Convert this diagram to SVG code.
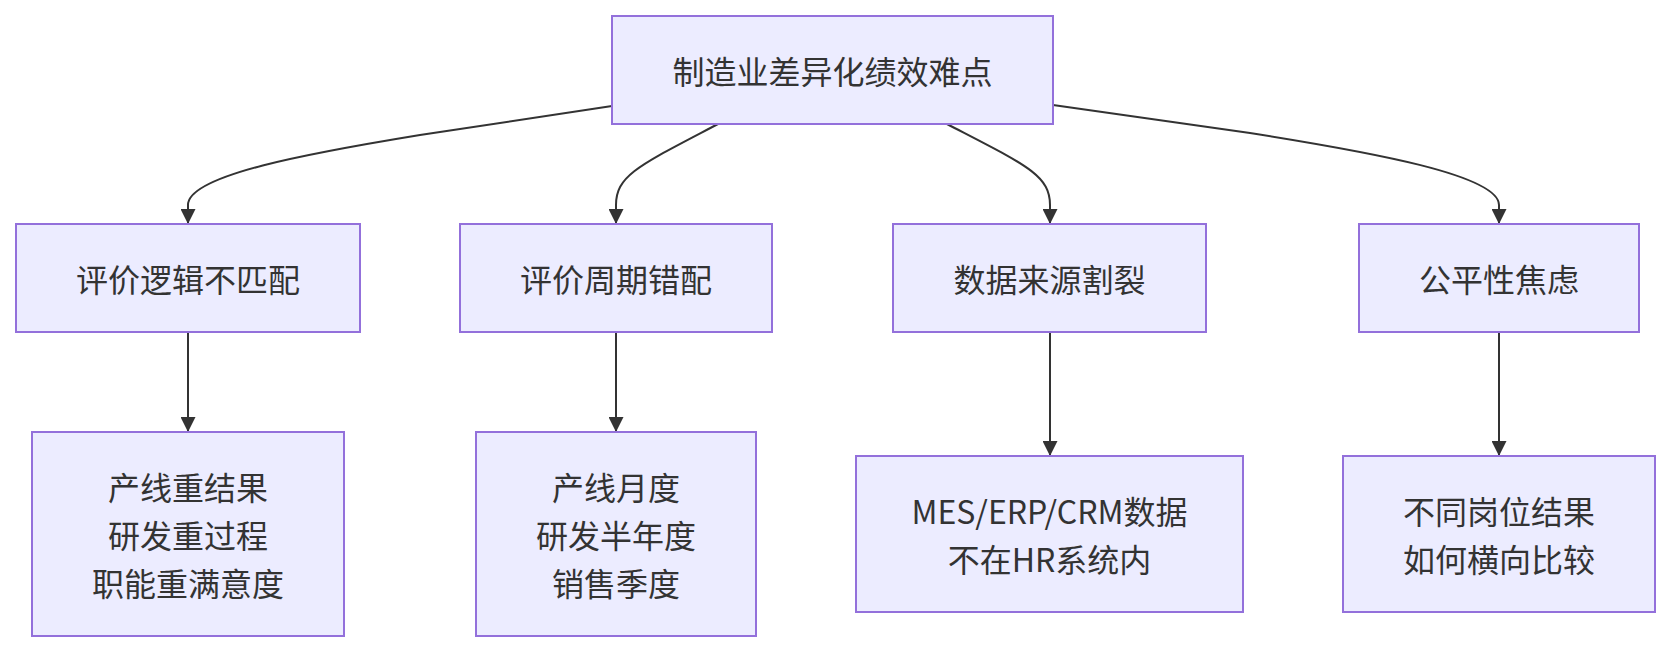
<svg xmlns="http://www.w3.org/2000/svg" width="1670" height="652" viewBox="0 0 1670 652">
<defs>
<marker id="arr" viewBox="0 0 10 10" refX="10" refY="5" markerUnits="userSpaceOnUse" markerWidth="15" markerHeight="15" orient="auto">
<path d="M0,0 L10,5 L0,10 z" fill="#333"/>
</marker>
<style>
.node rect{fill:#ECECFF;stroke:#9370DB;stroke-width:2}
.node text{font-family:"Noto Sans CJK SC","Liberation Sans",sans-serif;font-size:32px;fill:#333;text-anchor:middle;dominant-baseline:central}
.edges path{fill:none;stroke:#333;stroke-width:2;marker-end:url(#arr)}
</style>
</defs>
<rect width="1670" height="652" fill="#fff"/>
<g class="edges" id="connectors">
<path d="M612,106 L420,135 C310,153 188,175 188,205 L188,224"/>
<path d="M718,124 C640,165 616,175 616,205 L616,224"/>
<path d="M947,124 C1026,165 1050,175 1050,205 L1050,224"/>
<path d="M1053,105 L1250,133 C1370,152 1499,175 1499,205 L1499,224"/>
<path d="M188,332 L188,432"/>
<path d="M616,332 L616,432"/>
<path d="M1050,332 L1050,456"/>
<path d="M1499,332 L1499,456"/>
</g>
<g class="node" id="root"><rect x="612" y="16" width="441" height="108"/><text x="832.5" y="70">制造业差异化绩效难点</text></g>
<g class="node" id="a1"><rect x="16" y="224" width="344" height="108"/><text x="188" y="278">评价逻辑不匹配</text></g>
<g class="node" id="a2"><rect x="460" y="224" width="312" height="108"/><text x="616" y="278">评价周期错配</text></g>
<g class="node" id="a3"><rect x="893" y="224" width="313" height="108"/><text x="1049.5" y="278">数据来源割裂</text></g>
<g class="node" id="a4"><rect x="1359" y="224" width="280" height="108"/><text x="1499" y="278">公平性焦虑</text></g>
<g class="node" id="b1"><rect x="32" y="432" width="312" height="204"/><text x="188" y="486">产线重结果</text><text x="188" y="534">研发重过程</text><text x="188" y="582">职能重满意度</text></g>
<g class="node" id="b2"><rect x="476" y="432" width="280" height="204"/><text x="616" y="486">产线月度</text><text x="616" y="534">研发半年度</text><text x="616" y="582">销售季度</text></g>
<g class="node" id="b3"><rect x="856" y="456" width="387" height="156"/><text x="1049.5" y="510">MES/ERP/CRM数据</text><text x="1049.5" y="558">不在HR系统内</text></g>
<g class="node" id="b4"><rect x="1343" y="456" width="312" height="156"/><text x="1499" y="510">不同岗位结果</text><text x="1499" y="558">如何横向比较</text></g>
</svg>
